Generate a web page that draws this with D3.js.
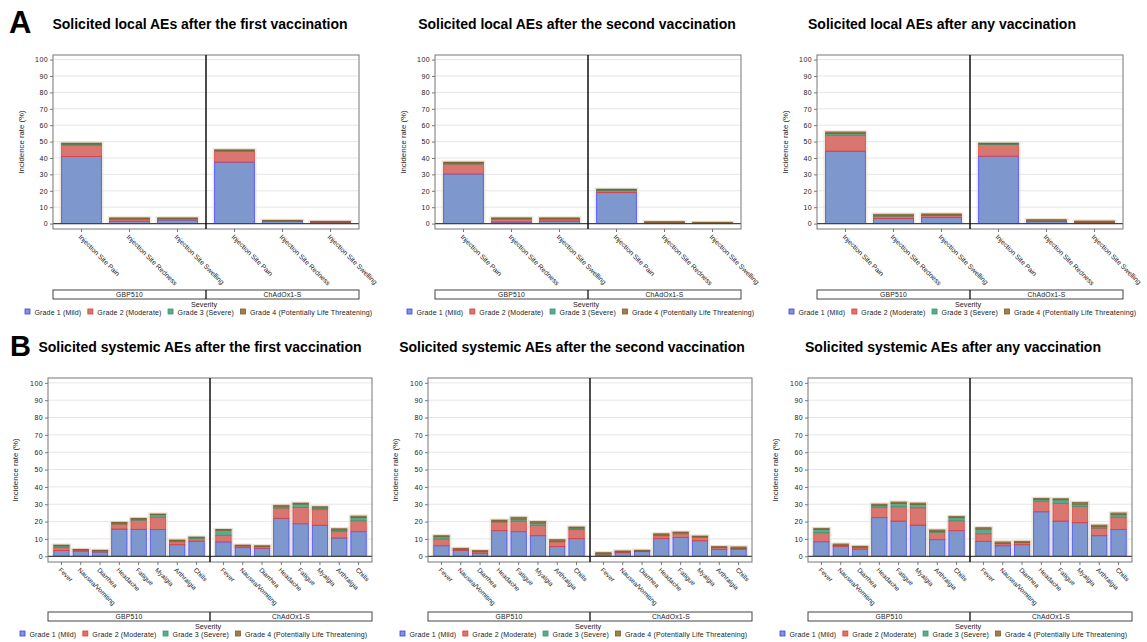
<!DOCTYPE html>
<html>
<head>
<meta charset="utf-8">
<script src="https://cdn.jsdelivr.net/npm/d3@7"></script>
<style>
body { margin: 0; background: #fff; }
text { font-family: "Liberation Sans", Arial, sans-serif; }
</style>
</head>
<body>
<svg id="chart" width="1147" height="642"></svg>
<script>
// categories / groups / grades
var localCats = ["Injection Site Pain", "Injection Site Redness", "Injection Site Swelling"];
var systemicCats = ["Fever", "Nausea/Vomiting", "Diarrhea", "Headache", "Fatigue", "Myalgia", "Arthralgia", "Chills"];
var groups = ["GBP510", "ChAdOx1-S"];
var grades = ["Grade 1 (Mild)", "Grade 2 (Moderate)", "Grade 3 (Severe)", "Grade 4 (Potentially Life Threatening)"];
var yTicks = [0, 10, 20, 30, 40, 50, 60, 70, 80, 90, 100];

// incidence rate (%) per category: [grade1, grade2, grade3, grade4]
var localFirstGBP = [[40.9, 7.0, 0.6, 0.6], [1.5, 1.2, 0.3, 0.5], [2.2, 0.8, 0.1, 0.4]];
var localFirstChAd = [[37.5, 6.5, 0.6, 0.4], [1.3, 0.2, 0.1, 0.4], [0.8, 0.1, 0.0, 0.5]];
var localSecondGBP = [[30.3, 6.0, 0.6, 0.6], [1.0, 1.8, 0.3, 0.4], [1.6, 1.1, 0.3, 0.5]];
var localSecondChAd = [[18.9, 1.2, 0.4, 0.5], [0.3, 0.3, 0.0, 0.6], [0.2, 0.1, 0.0, 0.5]];
var localAnyGBP = [[44.2, 9.7, 1.1, 0.9], [3.1, 1.4, 0.3, 0.9], [3.8, 1.2, 0.2, 0.7]];
var localAnyChAd = [[41.1, 7.1, 0.4, 0.5], [1.2, 0.3, 0.2, 0.7], [0.6, 0.2, 0.0, 0.8]];

var sysFirstGBP = [[3.3, 1.7, 1.0, 0.5], [3.1, 0.6, 0.0, 0.3], [2.5, 0.7, 0.0, 0.3], [15.7, 2.9, 0.5, 0.5],
                   [15.5, 5.3, 0.6, 0.5], [15.4, 7.1, 1.5, 0.4], [6.7, 1.7, 0.5, 0.5], [8.8, 1.4, 0.7, 0.2]];
var sysFirstChAd = [[8.3, 3.8, 2.9, 0.5], [5.0, 1.0, 0.0, 0.5], [4.6, 1.0, 0.0, 0.5], [21.9, 5.9, 0.8, 0.8],
                    [18.8, 9.4, 1.9, 0.6], [17.9, 9.0, 0.9, 0.8], [10.6, 4.0, 0.6, 0.7], [14.2, 6.3, 1.8, 0.9]];
var sysSecondGBP = [[6.1, 3.9, 1.3, 0.6], [3.3, 0.7, 0.0, 0.6], [1.9, 0.8, 0.0, 0.6], [14.8, 5.0, 0.5, 0.6],
                    [14.2, 6.1, 1.2, 1.0], [11.9, 6.0, 1.3, 0.8], [5.6, 2.8, 0.4, 0.8], [10.2, 5.2, 0.9, 0.6]];
var sysSecondChAd = [[0.4, 0.9, 0.2, 0.6], [2.1, 0.5, 0.0, 0.5], [2.7, 0.3, 0.0, 0.5], [10.2, 1.7, 0.4, 0.7],
                     [10.9, 2.1, 0.6, 0.4], [9.0, 1.9, 0.4, 0.4], [4.0, 1.0, 0.0, 0.6], [4.2, 0.4, 0.0, 0.8]];
var sysAnyGBP = [[8.4, 5.2, 1.9, 0.6], [5.6, 0.7, 0.0, 0.8], [4.2, 1.0, 0.0, 0.6], [22.3, 6.1, 1.0, 0.7],
                 [20.3, 8.3, 1.9, 0.8], [18.0, 10.0, 1.9, 0.8], [9.6, 4.2, 0.6, 0.8], [14.8, 5.7, 1.8, 0.7]];
var sysAnyChAd = [[8.6, 4.4, 2.7, 0.8], [6.1, 1.2, 0.0, 1.0], [6.7, 1.2, 0.0, 0.7], [25.7, 6.1, 1.0, 0.6],
                  [20.3, 10.3, 2.0, 0.6], [19.4, 9.4, 1.3, 1.0], [11.9, 4.4, 0.8, 0.9], [15.4, 7.1, 1.5, 1.0]];

var fills = ["#7e97cd", "#d9766f", "#5fa98f", "#a2804e"];
var strokes = ["#3d3dff", "#e23a35", "#2f9a72", "#7a5a2a"];

var svg = d3.select("#chart");

// panel letters
svg.append("text").attr("x", 9).attr("y", 33).style("font-size", "31px").style("font-weight", "bold").text("A");
svg.append("text").attr("x", 10).attr("y", 356).style("font-size", "29px").style("font-weight", "bold").text("B");

var panels = [
	{ title: "Solicited local AEs after the first vaccination", tx: 200, ty: 29, x0: 53, x1: 359, y0: 55, y1: 229, lx: 24, strip: 290, cats: localCats, data: [localFirstGBP, localFirstChAd], inset: 4.5, fs: 6.9 },
	{ title: "Solicited local AEs after the second vaccination", tx: 577, ty: 29, x0: 435, x1: 741, y0: 55, y1: 229, lx: 406, strip: 290, cats: localCats, data: [localSecondGBP, localSecondChAd], inset: 4.5, fs: 6.9 },
	{ title: "Solicited local AEs after any vaccination", tx: 942, ty: 29, x0: 817, x1: 1123, y0: 55, y1: 229, lx: 788, strip: 290, cats: localCats, data: [localAnyGBP, localAnyChAd], inset: 4.5, fs: 6.9 },
	{ title: "Solicited systemic AEs after the first vaccination", tx: 200, ty: 352, x0: 48, x1: 372, y0: 378, y1: 562, lx: 18, strip: 612, cats: systemicCats, data: [sysFirstGBP, sysFirstChAd], inset: 3.8, fs: 6.6 },
	{ title: "Solicited systemic AEs after the second vaccination", tx: 572, ty: 352, x0: 428, x1: 752, y0: 378, y1: 562, lx: 398, strip: 612, cats: systemicCats, data: [sysSecondGBP, sysSecondChAd], inset: 3.8, fs: 6.6 },
	{ title: "Solicited systemic AEs after any vaccination", tx: 953, ty: 352, x0: 808, x1: 1132, y0: 378, y1: 562, lx: 778, strip: 612, cats: systemicCats, data: [sysAnyGBP, sysAnyChAd], inset: 3.8, fs: 6.6 }
];

var stack = d3.stack().keys([0, 1, 2, 3]);

panels.forEach(function(p) {
	var g = svg.append("g");
	var y = d3.scaleLinear().domain([-3.3, 102.8]).range([p.y1, p.y0]);
	var half = (p.x1 - p.x0) / 2;
	var mid = p.x0 + half;

	g.append("text").attr("x", p.tx).attr("y", p.ty).attr("text-anchor", "middle")
		.style("font-size", "14px").style("font-weight", "bold").text(p.title);

	// gridlines
	g.selectAll(".grid").data(yTicks.slice(1)).enter().append("line")
		.attr("x1", p.x0).attr("x2", p.x1)
		.attr("y1", function(d) { return y(d); }).attr("y2", function(d) { return y(d); })
		.attr("stroke", "#e6e6e6").attr("stroke-width", 1);

	// y axis
	var yAxis = d3.axisLeft(y).tickValues(yTicks).tickSize(3).tickPadding(2);
	var ya = g.append("g").attr("transform", "translate(" + p.x0 + ",0)").call(yAxis);
	ya.select(".domain").remove();
	ya.selectAll("line").attr("stroke", "#777");
	ya.selectAll("text").style("font-size", "7px").style("letter-spacing", "0.4px").attr("fill", "#222")
		.style("font-family", "'Liberation Sans', Arial, sans-serif");

	g.append("text").attr("transform", "translate(" + p.lx + "," + ((p.y0 + p.y1) / 2) + ") rotate(-90)")
		.attr("text-anchor", "middle").style("font-size", "7.8px").attr("fill", "#222").text("Incidence rate (%)");

	groups.forEach(function(grp, gi) {
		var x = d3.scaleBand().domain(p.cats)
			.range([p.x0 + gi * half + p.inset, p.x0 + (gi + 1) * half - p.inset])
			.paddingInner(0.15).paddingOuter(0.075);
		var rows = p.data[gi];
		var series = stack(rows);

		// light halo around each bar
		g.selectAll(".halo" + gi).data(rows).enter().append("rect")
			.attr("x", function(d, i) { return x(p.cats[i]) - 1; })
			.attr("width", x.bandwidth() + 2)
			.attr("y", function(d) { return y(d3.sum(d)) - 1; })
			.attr("height", function(d) { return y(0) - y(d3.sum(d)) + 1; })
			.attr("fill", "none").attr("stroke", "#e6dfd2").attr("stroke-width", 1);

		series.forEach(function(s, k) {
			g.selectAll(".seg" + gi + k).data(s).enter().append("rect")
				.attr("x", function(d, i) { return x(p.cats[i]) + 0.5; })
				.attr("width", x.bandwidth() - 1)
				.attr("y", function(d) { return y(d[1]); })
				.attr("height", function(d) { return Math.max(0, y(d[0]) - y(d[1])); })
				.attr("fill", fills[k]).attr("stroke", strokes[k]).attr("stroke-width", 0.9)
				.attr("stroke-opacity", 0.85);
		});

		// x ticks + rotated labels
		p.cats.forEach(function(c) {
			var cx = x(c) + x.bandwidth() / 2;
			g.append("line").attr("x1", cx).attr("x2", cx).attr("y1", p.y1).attr("y2", p.y1 + 3).attr("stroke", "#777");
			g.append("text").attr("transform", "translate(" + (cx - 2) + "," + (p.y1 + 7) + ") rotate(45)")
				.attr("dy", "0.3em").style("font-size", p.fs + "px").attr("fill", "#222").text(c);
		});

		// strip label
		g.append("text").attr("x", p.x0 + gi * half + half / 2).attr("y", p.strip + 6.8)
			.attr("text-anchor", "middle").style("font-size", "6.8px").style("letter-spacing", "0.2px")
			.attr("fill", "#222").text(grp);
	});

	// zero line, frame, divider
	g.append("line").attr("x1", p.x0).attr("x2", p.x1).attr("y1", y(0)).attr("y2", y(0))
		.attr("stroke", "#444").attr("stroke-width", 1.3);
	g.append("rect").attr("x", p.x0).attr("y", p.y0).attr("width", p.x1 - p.x0).attr("height", p.y1 - p.y0)
		.attr("fill", "none").attr("stroke", "#777").attr("stroke-width", 1);
	g.append("line").attr("x1", mid).attr("x2", mid).attr("y1", p.y0).attr("y2", p.y1)
		.attr("stroke", "#111").attr("stroke-width", 1.5);

	// strip box
	g.append("rect").attr("x", p.x0).attr("y", p.strip).attr("width", p.x1 - p.x0).attr("height", 9)
		.attr("fill", "none").attr("stroke", "#444").attr("stroke-width", 1);
	g.append("line").attr("x1", mid).attr("x2", mid).attr("y1", p.strip).attr("y2", p.strip + 9)
		.attr("stroke", "#111").attr("stroke-width", 1.3);

	g.append("text").attr("x", mid - 2).attr("y", p.strip + 16.5).attr("text-anchor", "middle")
		.style("font-size", "7.2px").attr("fill", "#222").text("Severity");

	// legend
	var lx = p.x0 - 28, ly = p.strip + 24.5;
	grades.forEach(function(gr, k) {
		g.append("rect").attr("x", lx).attr("y", ly - 5.5).attr("width", 5).attr("height", 5)
			.attr("fill", fills[k]).attr("stroke", strokes[k]).attr("stroke-width", 0.8);
		var t = g.append("text").attr("x", lx + 9.5).attr("y", ly).style("font-size", "7px")
			.style("letter-spacing", "0.15px").attr("fill", "#222").text(gr);
		lx += 9.5 + t.node().getComputedTextLength() + 6.5;
	});
});
</script>
</body>
</html>
